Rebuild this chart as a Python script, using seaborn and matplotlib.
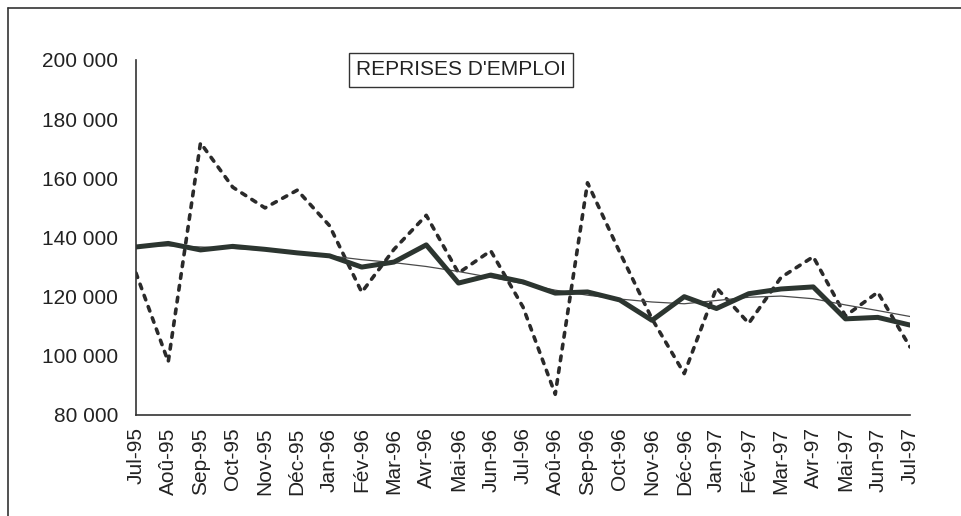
import numpy as np
import pandas as pd
import matplotlib
matplotlib.use("Agg")
import matplotlib.pyplot as plt
import seaborn as sns

months = ["Jul-95", "Aoû-95", "Sep-95", "Oct-95", "Nov-95", "Déc-95", "Jan-96",
          "Fév-96", "Mar-96", "Avr-96", "Mai-96", "Jun-96", "Jul-96", "Aoû-96",
          "Sep-96", "Oct-96", "Nov-96", "Déc-96", "Jan-97", "Fév-97", "Mar-97",
          "Avr-97", "Mai-97", "Jun-97", "Jul-97"]

brut = [128000, 98000, 172000, 157000, 150000, 156000, 144000,
        121500, 136000, 147500, 128000, 135500, 116500, 87000,
        158500, 135000, 112500, 94000, 123000, 111000, 126500,
        133500, 113500, 121500, 103000]

cvs = [136800, 138000, 135800, 137000, 136000, 134800, 133800,
       130000, 131700, 137500, 124600, 127300, 125000, 121200,
       121600, 118900, 112000, 120000, 116000, 121000, 122600,
       123300, 112500, 113000, 110400]

tendance = [137000, 137200, 136800, 136300, 135700, 134800, 133800,
            132500, 131500, 130200, 128500, 126500, 124400, 122200,
            120500, 119200, 118200, 117600, 118700, 119800, 120200,
            119300, 117200, 115300, 113300]

yticks = [80000, 100000, 120000, 140000, 160000, 180000, 200000]
ytick_labels = ["80 000", "100 000", "120 000", "140 000", "160 000", "180 000", "200 000"]
title = "REPRISES D'EMPLOI"

df = pd.DataFrame({"pos": np.arange(len(months)), "mois": months,
                   "brut": brut, "cvs": cvs, "tendance": tendance})

sns.set_theme(style="white")
plt.rcParams["font.family"] = ["Liberation Sans", "DejaVu Sans"]

fig = plt.figure(figsize=(9.61, 5.16), dpi=100)
ax = fig.add_axes([136 / 961, 1 - 415 / 516, (910 - 136) / 961, (415 - 60) / 516])

sns.lineplot(data=df, x="pos", y="brut", ax=ax, color="#2a2a2a", linewidth=2.6, sort=False)
ax.lines[-1].set_dashes([1.3, 2.0])
ax.lines[-1].set_dash_capstyle("round")
sns.lineplot(data=df, x="pos", y="tendance", ax=ax, color="#4a4a4a", linewidth=0.9, sort=False)
sns.lineplot(data=df, x="pos", y="cvs", ax=ax, color="#2c3530", linewidth=3.6, sort=False)

ax.set_xlim(0, len(months) - 1)
ax.set_ylim(80000, 200000)
ax.set_yticks(yticks)
ax.set_yticklabels(ytick_labels, fontsize=15, color="#222222")
ax.set_xticks(df["pos"])
ax.set_xticklabels(months, rotation=90, fontsize=15, color="#222222")
ax.set_xlabel("")
ax.set_ylabel("")
ax.tick_params(axis="both", direction="inout", length=10, width=1.0, color="#333333")
ax.tick_params(axis="y", pad=8)
ax.tick_params(axis="x", pad=4)
for s in ["top", "right"]:
    ax.spines[s].set_visible(False)
for s in ["left", "bottom"]:
    ax.spines[s].set_color("#333333")
    ax.spines[s].set_linewidth(1.2)
ax.grid(False)

ax.text(0.42, 0.972, title, transform=ax.transAxes, ha="center", va="center",
        fontsize=15, color="#222222",
        bbox=dict(boxstyle="square,pad=0.35", facecolor="white", edgecolor="#333333", linewidth=1.0),
        clip_on=False)

# outer frame (left and top edges)
fig.add_artist(plt.Line2D([8 / 961, 8 / 961], [0, 1 - 8 / 516], transform=fig.transFigure,
                          color="#333333", linewidth=1.2))
fig.add_artist(plt.Line2D([8 / 961, 1], [1 - 8 / 516, 1 - 8 / 516], transform=fig.transFigure,
                          color="#333333", linewidth=1.2))

fig.savefig("out.png", dpi=100)
